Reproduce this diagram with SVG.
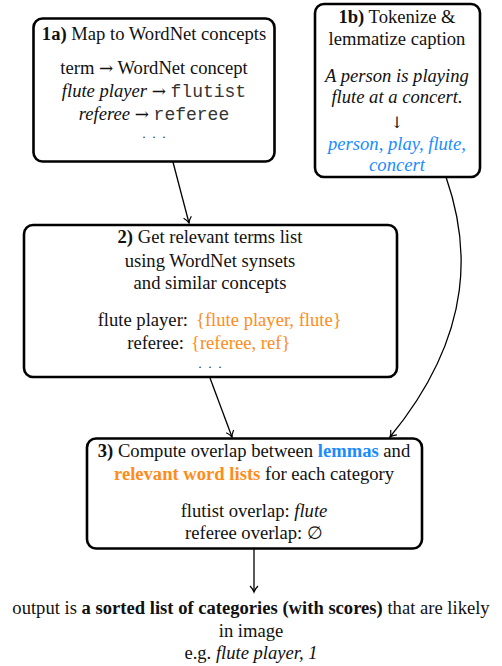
<svg xmlns="http://www.w3.org/2000/svg" width="502" height="666" viewBox="0 0 502 666" font-family="'Liberation Serif', 'Times New Roman', 'DejaVu Serif', serif">
<style>
text{font-family:'Liberation Serif','Times New Roman','DejaVu Serif',serif;font-size:18.6px;fill:#111;}
.c{text-anchor:middle;}
.b{font-weight:bold;}
.i{font-style:italic;}
.m{font-family:'Liberation Mono','Courier New',monospace;font-size:18px;fill:#333;}
.ar{font-family:'DejaVu Serif','Liberation Serif',serif;font-size:17px;}
.dots{font-size:12px;letter-spacing:2px;}
.blue{fill:#1a8cff;}
.orange{fill:#ff8c1a;}
.box{fill:#fff;stroke:#000;stroke-width:2.6;}
.edge{fill:none;stroke:#000;stroke-width:1.3;}
</style>
<defs>
<marker id="arr" markerUnits="userSpaceOnUse" markerWidth="12" markerHeight="12" refX="9" refY="6" orient="auto" viewBox="0 0 12 12">
<path d="M3,2 Q6,5 9,6 Q6,7 3,10" fill="none" stroke="#000" stroke-width="1.2"/>
</marker>
</defs>
<g id="connectors">
<path class="edge" d="M172.7,161 L189,223" marker-end="url(#arr)"/>
<path class="edge" d="M446,177 C468,240 478,330 390,437" marker-end="url(#arr)"/>
<path class="edge" d="M210,378 L232,437" marker-end="url(#arr)"/>
<path class="edge" d="M254,549 L254,592" marker-end="url(#arr)"/>
</g>
<g id="node1a">
<rect class="box" x="33.5" y="18.5" width="241" height="143" rx="9"/>
<text class="c" x="154" y="40"><tspan class="b">1a)</tspan> Map to WordNet concepts</text>
<text class="c" x="154" y="74">term <tspan class="ar">→</tspan> WordNet concept</text>
<text class="c" x="154" y="97"><tspan class="i">flute player</tspan> <tspan class="ar">→</tspan> <tspan class="m">flutist</tspan></text>
<text class="c" x="154" y="120"><tspan class="i">referee</tspan> <tspan class="ar">→</tspan> <tspan class="m">referee</tspan></text>
<text class="c dots" x="155" y="138">. . .</text>
</g>
<g id="node1b">
<rect class="box" x="315" y="4" width="165" height="173" rx="9"/>
<text class="c" x="397" y="23"><tspan class="b">1b)</tspan> Tokenize &amp;</text>
<text class="c" x="397" y="45">lemmatize caption</text>
<text class="c i" x="397" y="82">A person is playing</text>
<text class="c i" x="397" y="103">flute at a concert.</text>
<text class="c ar" x="397" y="128" style="font-size:16px">↓&#xFE0E;</text>
<text class="c i blue" x="397" y="150">person, play, flute,</text>
<text class="c i blue" x="397" y="171">concert</text>
</g>
<g id="node2">
<rect class="box" x="24" y="225" width="373" height="152" rx="9"/>
<text class="c" x="210" y="243"><tspan class="b">2)</tspan> Get relevant terms list</text>
<text class="c" x="210" y="267">using WordNet synsets</text>
<text class="c" x="210" y="289">and similar concepts</text>
<text x="188" y="326" text-anchor="end">flute player:</text>
<text class="orange" x="196" y="326">{flute player, flute}</text>
<text x="184" y="349" text-anchor="end">referee:</text>
<text class="orange" x="191" y="349">{referee, ref}</text>
<text class="c dots" x="211" y="368">. . .</text>
</g>
<g id="node3">
<rect class="box" x="87" y="438.5" width="335" height="110" rx="9"/>
<text class="c" x="254" y="457"><tspan class="b">3)</tspan> Compute overlap between <tspan class="b blue">lemmas</tspan> and</text>
<text class="c" x="254" y="480"><tspan class="b orange">relevant word lists</tspan> for each category</text>
<text class="c" x="254" y="517">flutist overlap: <tspan class="i">flute</tspan></text>
<text class="c" x="254" y="539">referee overlap: <tspan class="ar" style="font-size:18px">∅</tspan></text>
</g>
<g id="output">
<text class="c" x="251" y="614">output is <tspan class="b">a sorted list of categories (with scores)</tspan> that are likely</text>
<text class="c" x="251" y="637">in image</text>
<text class="c" x="251" y="659">e.g. <tspan class="i">flute player, 1</tspan></text>
</g>
</svg>
